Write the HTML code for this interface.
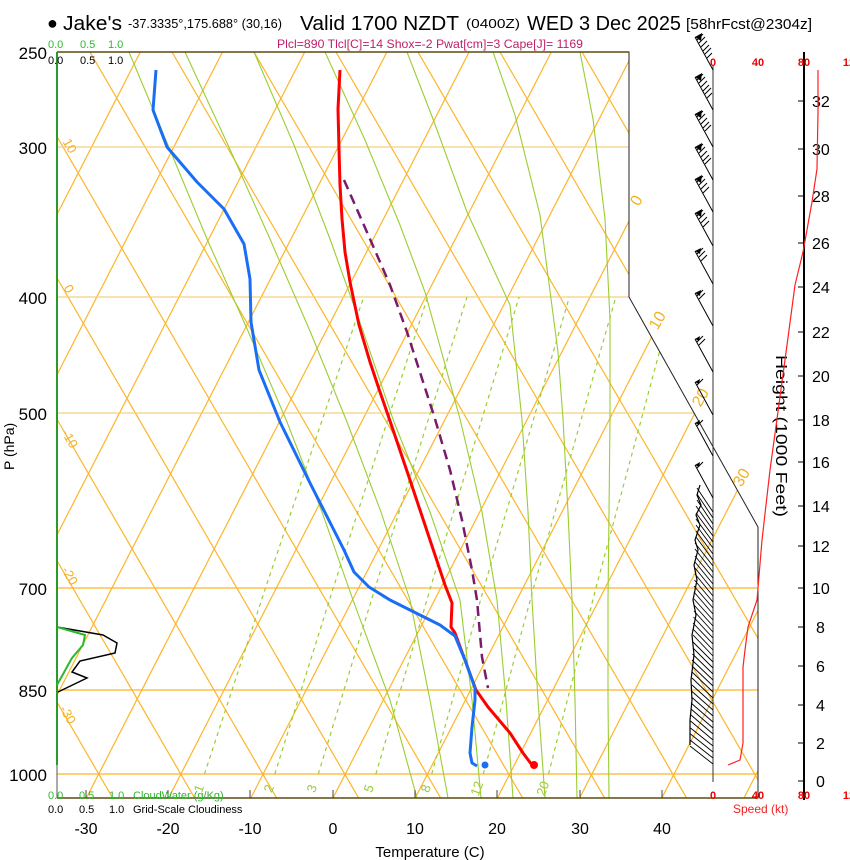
<!DOCTYPE html>
<html><head><meta charset="utf-8"><style>
html,body{margin:0;padding:0;background:#fff;}
svg{display:block;font-family:"Liberation Sans",Arial,sans-serif;}
</style></head><body>
<svg width="850" height="860" viewBox="0 0 850 860" xmlns="http://www.w3.org/2000/svg">
<defs><clipPath id="cp"><polygon points="57,52 629,52 629,297 758,527 758,798 57,798"/></clipPath></defs>
<rect width="850" height="860" fill="#fff"/>
<g clip-path="url(#cp)" fill="none">
<!-- isotherms -->
<path stroke="#fdb52a" stroke-width="1.2" d="M-438.6,860L2.6,0 M-356.4,860L84.8,0 M-274.2,860L167,0 M-192,860L249.2,0 M-109.8,860L331.4,0 M-27.6,860L413.6,0 M54.6,860L495.8,0 M136.8,860L578,0 M219,860L660.2,0 M301.2,860L742.4,0 M383.4,860L824.6,0 M465.6,860L906.8,0 M547.8,860L989,0 M630,860L1071.2,0 M712.2,860L1153.4,0"/>
<!-- other family -->
<path stroke="#fdb52a" stroke-width="1.2" d="M66.6,860L-432.2,0 M148.6,860L-350.2,0 M230.6,860L-268.2,0 M312.6,860L-186.2,0 M394.6,860L-104.2,0 M476.6,860L-22.2,0 M558.6,860L59.8,0 M640.6,860L141.8,0 M722.6,860L223.8,0 M804.6,860L305.8,0 M886.6,860L387.8,0 M968.6,860L469.8,0 M1050.6,860L551.8,0 M1132.6,860L633.8,0 M1214.6,860L715.8,0"/>
<!-- pressure lines -->
<path stroke="#f7cf80" stroke-width="1.2" d="M57,147H760 M57,297H760 M57,413H760"/>
<path stroke="#fdb52a" stroke-width="1.2" d="M57,588H760 M57,690H760 M57,774H760"/>
<!-- moist adiabats -->
<g stroke="#9acd32" stroke-width="1.1">
<polyline points="129,52 168,145 207,239 248,331 287,422 322,512 353,600 390,700 417,798"/>
<polyline points="185,52 228,145 270,239 310,331 347,422 381,512 410,600 430,700 448,798"/>
<polyline points="254,52 294,145 330,239 363,331 394,422 430,512 460,600 472,700 481,798"/>
<polyline points="325,52 365,140 400,225 425,292 460,419 482,512 497,600 506,700 513,798"/>
<polyline points="407,52 433,119 467,212 510,305 522,420 528,512 532,600 538,700 545,798"/>
<polyline points="493,52 515,115 540,215 558,352 563,419 568,512 572,600 575,700 577,798"/>
<polyline points="580,52 593,119 605,219 610,319 610,419 609,512 608,600 608,700 609,798"/>
</g>
<!-- mixing ratio -->
<g stroke="#9acd32" stroke-width="1.2" stroke-dasharray="4,4">
<polyline points="204.5,774 265.5,588 363.7,297"/>
<polyline points="274.8,774 333.2,588 427.6,297"/>
<polyline points="318.3,774 375.1,588 467,297"/>
<polyline points="375.9,774 430.4,588 519.1,297"/>
<polyline points="431.7,774 483.9,588 569.4,297"/>
<polyline points="483.3,774 533.5,588 615.8,297"/>
<polyline points="548.5,774 595.9,588 674.2,297"/>
</g>
</g>
<!-- frame -->
<polyline points="57,52 629,52 629,297 758,527 758,798 57,798" fill="none" stroke="#222" stroke-width="1"/>
<line x1="57" y1="52" x2="629" y2="52" stroke="#5a4a10" stroke-width="1.5"/>
<line x1="57" y1="798" x2="758" y2="798" stroke="#5a4a10" stroke-width="1.5"/>
<line x1="57" y1="627" x2="57" y2="798" stroke="#555" stroke-width="1"/>
<line x1="57" y1="52" x2="57" y2="765" stroke="#2a9a2a" stroke-width="2"/>
<path stroke="#444" d="M86,790V798 M168,790V798 M250,790V798 M333,790V798 M415,790V798 M497,790V798 M580,790V798 M662,790V798"/>
<!-- wind axis & height axis -->
<line x1="713" y1="65" x2="713" y2="782" stroke="#333" stroke-width="1"/>
<line x1="804" y1="52" x2="804" y2="800" stroke="#000" stroke-width="2"/>
<path stroke="#000" d="M798,101H804 M798,149H804 M798,196H804 M798,243H804 M798,287H804 M798,332H804 M798,376H804 M798,420H804 M798,462H804 M798,506H804 M798,546H804 M798,588H804 M798,627H804 M798,666H804 M798,705H804 M798,743H804 M798,781H804"/>
<g font-size="16" fill="#000">
<text x="812" y="107">32</text><text x="812" y="155">30</text><text x="812" y="202">28</text><text x="812" y="249">26</text><text x="812" y="293">24</text><text x="812" y="338">22</text><text x="812" y="382">20</text><text x="812" y="426">18</text><text x="812" y="468">16</text><text x="812" y="512">14</text><text x="812" y="552">12</text><text x="812" y="594">10</text><text x="816" y="633">8</text><text x="816" y="672">6</text><text x="816" y="711">4</text><text x="816" y="749">2</text><text x="816" y="787">0</text>
</g>
<text transform="translate(776,355) rotate(90)" font-size="16" textLength="162" lengthAdjust="spacingAndGlyphs">Height (1000 Feet)</text>
<g font-size="11" fill="#ee0000" font-weight="bold" text-anchor="middle">
<text x="713" y="66">0</text><text x="758" y="66">40</text><text x="804" y="66">80</text><text x="849" y="66">12</text>
<text x="713" y="799">0</text><text x="758" y="799">40</text><text x="804" y="799">80</text><text x="849" y="799">12</text>
</g>
<text x="733" y="813" font-size="12" fill="#ee2222">Speed (kt)</text>
<!-- title -->
<text x="47" y="29" font-size="18">●</text>
<text x="63" y="30" font-size="20" textLength="59" lengthAdjust="spacingAndGlyphs">Jake's</text>
<text x="128" y="28" font-size="13" textLength="154" lengthAdjust="spacingAndGlyphs">-37.3335°,175.688° (30,16)</text>
<text x="300" y="30" font-size="20" textLength="159" lengthAdjust="spacingAndGlyphs">Valid 1700 NZDT</text>
<text x="466" y="28" font-size="13" textLength="54" lengthAdjust="spacingAndGlyphs">(0400Z)</text>
<text x="527" y="30" font-size="20" textLength="154" lengthAdjust="spacingAndGlyphs">WED 3 Dec 2025</text>
<text x="686" y="29" font-size="15" textLength="126" lengthAdjust="spacingAndGlyphs">[58hrFcst@2304z]</text>
<text x="430" y="48" font-size="12" fill="#c0206a" text-anchor="middle" textLength="306" lengthAdjust="spacingAndGlyphs">Plcl=890 Tlcl[C]=14 Shox=-2 Pwat[cm]=3 Cape[J]= 1169</text>
<g font-size="11" fill="#2db82d"><text x="48" y="48">0.0</text><text x="80" y="48">0.5</text><text x="108" y="48">1.0</text>
<text x="48" y="799">0.0</text><text x="79" y="799">0.5</text><text x="109" y="799">1.0</text><text x="133" y="799">CloudWater (g/Kg)</text></g>
<g font-size="11" fill="#000"><text x="48" y="64">0.0</text><text x="80" y="64">0.5</text><text x="108" y="64">1.0</text>
<text x="48" y="813">0.0</text><text x="79" y="813">0.5</text><text x="109" y="813">1.0</text><text x="133" y="813">Grid-Scale Cloudiness</text></g>
<g font-size="17" text-anchor="end"><text x="47" y="59">250</text><text x="47" y="154">300</text><text x="47" y="304">400</text><text x="47" y="420">500</text><text x="47" y="595">700</text><text x="47" y="697">850</text><text x="47" y="781">1000</text></g>
<text transform="translate(14,470) rotate(-90)" font-size="14">P (hPa)</text>
<g font-size="16" text-anchor="middle"><text x="86" y="834">-30</text><text x="168" y="834">-20</text><text x="250" y="834">-10</text><text x="333" y="834">0</text><text x="415" y="834">10</text><text x="497" y="834">20</text><text x="580" y="834">30</text><text x="662" y="834">40</text></g>
<text x="430" y="857" font-size="15" text-anchor="middle">Temperature (C)</text>
<g font-size="16" fill="#f5b020" text-anchor="middle">
<text transform="translate(641,203) rotate(-60)">0</text>
<text transform="translate(662,323) rotate(-60)">10</text>
<text transform="translate(705,400) rotate(-60)">20</text>
<text transform="translate(746,480) rotate(-60)">30</text>
</g>
<g font-size="13" fill="#f5b020" text-anchor="middle">
<text transform="translate(66,148) rotate(60)">10</text>
<text transform="translate(65,291) rotate(60)">0</text>
<text transform="translate(66,441) rotate(60)">-10</text>
<text transform="translate(66,578) rotate(60)">-20</text>
<text transform="translate(64,717) rotate(60)">-30</text>
</g>
<g font-size="13" fill="#9acd32" text-anchor="middle">
<text transform="translate(203,790) rotate(-70)">1</text>
<text transform="translate(273,790) rotate(-70)">2</text>
<text transform="translate(316,790) rotate(-70)">3</text>
<text transform="translate(373,790) rotate(-70)">5</text>
<text transform="translate(430,790) rotate(-70)">8</text>
<text transform="translate(481,790) rotate(-70)">12</text>
<text transform="translate(547,790) rotate(-70)">20</text>
</g>
<!-- profiles -->
<polyline fill="none" stroke="#ff0000" stroke-width="3" stroke-linejoin="round" points="340,70 338,109 339,149 340,185 342,219 345,252 350,282 359,325 370,362 379,389 390,421 410,480 430,540 445,585 452,603 451,627 455,633 476,690 488,707 510,733 523,753 532,765"/>
<circle cx="534" cy="765" r="4" fill="#ff0000"/>
<polyline fill="none" stroke="#1a6ef5" stroke-width="3" stroke-linejoin="round" points="156,70 153,110 167,147 197,182 224,209 244,244 250,279 251,322 259,370 280,422 310,483 344,550 354,572 369,587 390,600 440,625 455,636 465,660 475,688 475,700 472,727 470,753 472,763 477,766"/>
<circle cx="485" cy="765" r="3.5" fill="#1a6ef5"/>
<polyline fill="none" stroke="#7a1a6a" stroke-width="2.5" stroke-dasharray="10,6" points="344,180 370,239 390,285 407,332 435,419 450,470 462,520 472,570 477,600 482,657 488,688"/>
<polyline fill="none" stroke="#000" stroke-width="1.5" points="57,627 103,635 117,643 115,653 80,661 72,672 87,678 58,692"/>
<polyline fill="none" stroke="#2db82d" stroke-width="2" points="57,627 85,635 83,645 72,658 57,685"/>
<polyline fill="none" stroke="#ff2020" stroke-width="1.2" points="818,70 818,112 817,169 812,202 803,252 795,285 787,345 777,419 770,470 762,540 757,600 748,627 745,650 743,667 743,700 743,743 740,760 728,765"/>
<!-- barbs upper -->
<g stroke="#000" stroke-width="1" fill="none">
<path d="M713,70L695,37 M713,110L695,77 M713,147L695,114 M713,180L695,147 M713,212L695,179 M713,246L695,213 M713,284L695,251 M713,326L695,293 M713,372L695,339 M713,415L695,382 M713,456L695,423 M713,498L695,465"/>
<path d="M697,40l6,-6 M699,43l6,-6 M701,47l6,-6 M703,51l6,-6 M705,54l6,-6 M707,58l5,-5
M697,80l6,-6 M699,83l6,-6 M701,87l6,-6 M703,91l6,-6 M705,94l6,-6 M707,98l5,-5
M697,117l6,-6 M699,120l6,-6 M701,124l6,-6 M703,128l6,-6 M705,131l6,-6
M697,150l6,-6 M699,153l6,-6 M701,157l6,-6 M703,161l6,-6 M705,164l6,-6
M697,182l6,-6 M699,185l6,-6 M701,189l6,-6 M703,193l6,-6
M697,216l6,-6 M699,219l6,-6 M701,223l6,-6 M703,227l6,-6
M697,254l6,-6 M699,257l6,-6 M701,261l6,-6
M697,296l6,-6 M699,299l6,-6
M697,342l6,-6 M699,345l6,-6
M697,385l6,-6 M697,426l6,-6 M697,468l6,-6"/>
<path fill="#000" stroke="none" d="M695,37l7,-4l-1,8z M695,77l7,-4l-1,8z M695,114l7,-4l-1,8z M695,147l7,-4l-1,8z M695,179l7,-4l-1,8z M695,213l7,-4l-1,8z M695,251l6,-3l-1,6z M695,293l6,-3l-1,6z M695,339l5,-3l-1,5z M695,382l5,-3l-1,5z M695,423l5,-3l-1,5z M695,465l5,-3l-1,5z"/>
<!-- dense lower barbs -->
<path stroke-width="0.9" d="M713,512L697,488 M713,518L697,494 M713,524L697,500 M713,530L696,506 M713,536L696,513 M713,542L696,519 M713,548L696,525 M713,554L696,531 M713,560L696,537 M713,566L695,543 M713,572L695,549 M713,578L695,556 M713,584L695,562 M713,590L695,568 M713,596L695,574 M713,602L694.5,580 M713,608L694,586 M713,614L694,592 M713,620L694,599 M713,626L694,605 M713,632L694,611 M713,638L693.5,617 M713,644L693,623 M713,650L693,629 M713,656L693,635 M713,662L693,642 M713,668L693,648 M713,674L692.5,654 M713,680L692,660 M713,686L692,666 M713,692L692,672 M713,698L692,678 M713,704L692,685 M713,710L691.5,691 M713,716L691.5,697 M713,722L691,703 M713,728L691,709 M713,734L691,715 M713,740L690.5,721 M713,746L690.5,728 M713,752L690.5,734 M713,758L690,740 M713,764L690,746"/>
<polyline stroke-width="1.2" points="700,485 697,495 701,505 696,515 700,525 695,540 698,550 694,565 697,580 693,600 696,615 692,635 694,655 691,680 692,700 690,720 690,745"/>
</g>
</svg>
</body></html>
